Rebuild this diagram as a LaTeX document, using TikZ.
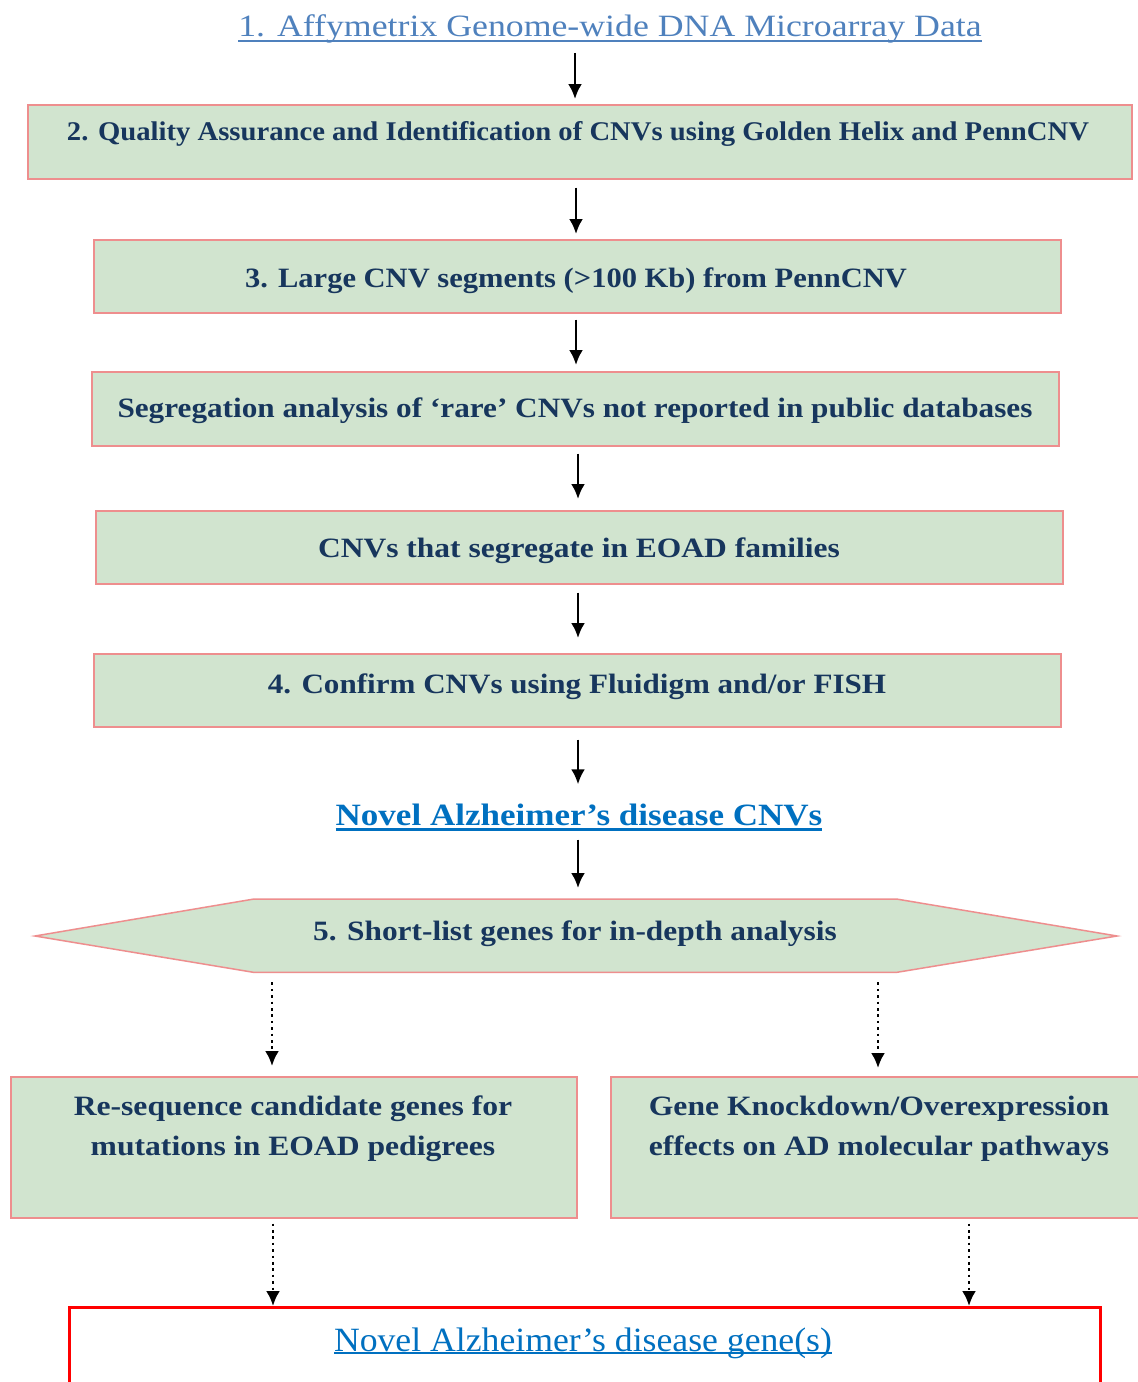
\documentclass[tikz,border=0pt]{standalone}
\usepackage{fontspec}
\setmainfont{Liberation Serif}
\usetikzlibrary{arrows.meta}
\definecolor{boxgreen}{HTML}{D1E4CF}
\definecolor{boxred}{HTML}{EE8E8E}
\definecolor{navy}{HTML}{17365D}
\definecolor{steel}{HTML}{4F81BD}
\definecolor{linkblue}{HTML}{0070C0}
\newcommand\myul[3]{\setbox0\hbox{#3}\rlap{\rule[-#2]{\wd0}{#1}}\box0}
\newcommand\sx[2]{\scalebox{#1}[1]{#2}}
\newcommand\twolines[3]{\scalebox{#1}[1]{\begin{tabular}[b]{@{}c@{}}#2\\#3\end{tabular}}}
\begin{document}
\begin{tikzpicture}[x=1pt,y=-1pt,
  stepbox/.style={draw=boxred, line width=1.5pt, fill=boxgreen, inner sep=0pt, anchor=north west},
  boxtext/.style={text=navy, font=\fontsize{28}{40}\selectfont\bfseries, inner sep=0pt, anchor=base},
  arr/.style={-{Latex[length=15pt,width=14pt]}, line width=2.6pt},
  dotarr/.style={-{Latex[length=15pt,width=14pt]}, line width=2.6pt, dash pattern=on 2.6pt off 3.8pt}]
\clip (0,0) rectangle (1138,1382);
\fill[white] (0,0) rectangle (1138,1382);
% title
\node[text=steel, font=\fontsize{31}{34}\selectfont, inner sep=0pt, anchor=base] (title) at (610,36)
  {\myul{2pt}{5.5pt}{\sx{1.154}{1. Affymetrix Genome-wide DNA Microarray Data}}};
% boxes
\node[stepbox, minimum width=1104, minimum height=74] (qa) at (27,104) {};
\node[boxtext, font=\fontsize{27}{30}\selectfont\bfseries] (tqa) at (578,140) {\sx{1.062}{2. Quality Assurance and Identification of CNVs using Golden Helix and PennCNV}};
\node[stepbox, minimum width=967, minimum height=73] (large) at (93,239) {};
\node[boxtext] (tlarge) at (576,287) {\sx{1.09}{3. Large CNV segments (>100 Kb) from PennCNV}};
\node[stepbox, minimum width=967, minimum height=74] (seg) at (91,371) {};
\node[boxtext] (tseg) at (575,417) {\sx{1.115}{Segregation analysis of ‘rare’ CNVs not reported in public databases}};
\node[stepbox, minimum width=967, minimum height=73] (fam) at (95,510) {};
\node[boxtext] (tfam) at (579,557) {\sx{1.125}{CNVs that segregate in EOAD families}};
\node[stepbox, minimum width=967, minimum height=73] (conf) at (93,653) {};
\node[boxtext] (tconf) at (577,693) {\sx{1.11}{4. Confirm CNVs using Fluidigm and/or FISH}};
% novel CNVs
\node[text=linkblue, font=\fontsize{31}{34}\selectfont\bfseries, inner sep=0pt, anchor=base] (novel) at (579,825)
  {\myul{2.2pt}{5.5pt}{\sx{1.13}{Novel Alzheimer’s disease CNVs}}};
% hexagon
\node[inner sep=0pt, minimum width=642, minimum height=73, anchor=north west] (short) at (254,899) {};
\draw[draw=boxred, line width=1.5pt, fill=boxgreen]
  (35,936) -- (short.north west) -- (short.north east) -- (1117,936) -- (short.south east) -- (short.south west) -- cycle;
\node[boxtext] (tshort) at (575,940) {\sx{1.12}{5. Short-list genes for in-depth analysis}};
% lower boxes
\node[stepbox, minimum width=566, minimum height=141] (reseq) at (10,1076) {};
\node[boxtext] (treseq) at (293,1155) {\twolines{1.13}{Re-sequence candidate genes for}{mutations in EOAD pedigrees}};
\node[stepbox, minimum width=560, minimum height=141] (knock) at (610,1076) {};
\node[boxtext] (tknock) at (879,1155) {\twolines{1.13}{Gene Knockdown/Overexpression}{effects on AD molecular pathways}};
% final box
\node[draw=red, line width=3pt, minimum width=1031, minimum height=120, anchor=north west, inner sep=0pt] (gene) at (68,1306) {};
\node[text=linkblue, font=\fontsize{34}{36}\selectfont, inner sep=0pt, anchor=base] (tgene) at (583,1351)
  {\myul{2.2pt}{3pt}{\sx{1.05}{Novel Alzheimer’s disease gene(s)}}};
% arrows
\draw[arr] ([yshift=-10pt]title.south -| 575,0) -- ([yshift=5pt]qa.north -| 575,0);
\draw[arr] ([yshift=-8pt]qa.south -| 576,0) -- ([yshift=5pt]large.north -| 576,0);
\draw[arr] ([yshift=-6pt]large.south -| 576,0) -- ([yshift=6pt]seg.north -| 576,0);
\draw[arr] ([yshift=-7pt]seg.south -| 578,0) -- ([yshift=11pt]fam.north -| 578,0);
\draw[arr] ([yshift=-8pt]fam.south -| 578,0) -- ([yshift=15pt]conf.north -| 578,0);
\draw[arr] ([yshift=-12pt]conf.south -| 578,0) -- ([yshift=19pt]novel.north -| 578,0);
\draw[arr] ([yshift=-9pt]novel.south -| 578,0) -- ([yshift=11pt]short.north -| 578,0);
\draw[dotarr] ([yshift=-10pt]short.south -| 272,0) -- ([yshift=10pt]reseq.north -| 272,0);
\draw[dotarr] ([yshift=-10pt]short.south -| 878,0) -- ([yshift=8pt]knock.north -| 878,0);
\draw[dotarr] ([yshift=-5pt]reseq.south -| 273,0) -- (gene.north -| 273,0);
\draw[dotarr] ([yshift=-5pt]knock.south -| 969,0) -- (gene.north -| 969,0);
\end{tikzpicture}
\end{document}
